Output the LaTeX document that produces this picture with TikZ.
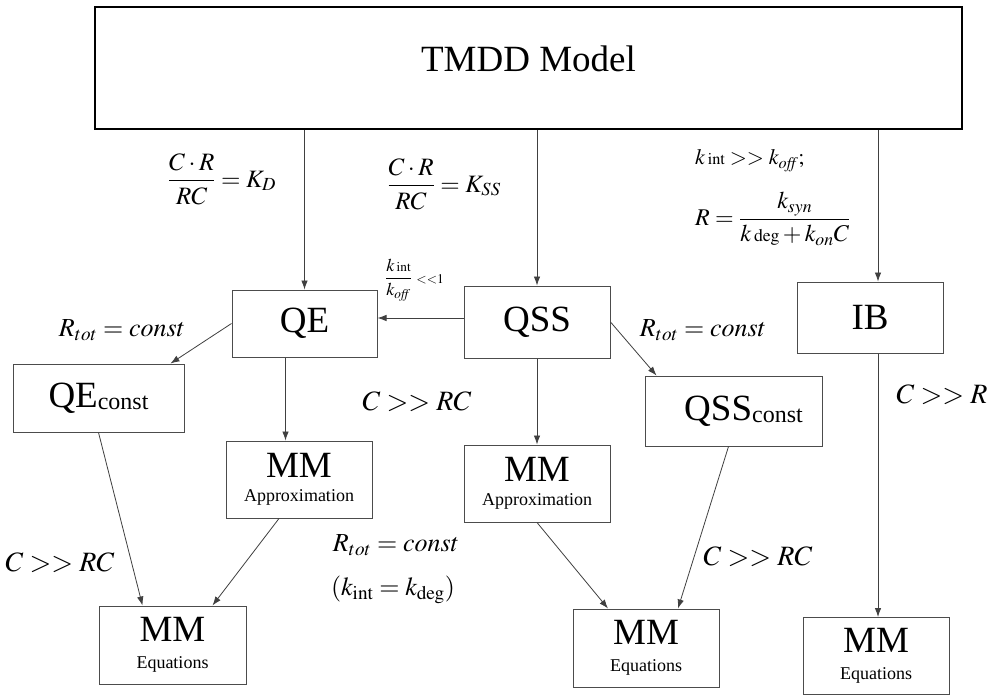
\documentclass[tikz,border=0pt]{standalone}
\usepackage{mathptmx}
\usepackage{fontspec}
\setmainfont{Liberation Serif}
\usetikzlibrary{arrows.meta}

\begin{document}
\begin{tikzpicture}[x=1pt,y=-1pt,
  box/.style={rectangle,draw=black!70,line width=1pt,inner sep=0pt,minimum width=146pt,minimum height=71pt,align=center,font=\fontsize{37}{40}\selectfont},
  apbox/.style={box,minimum height=77pt,font=\fontsize{18}{24}\selectfont},
  eqbox/.style={box,minimum height=77pt,font=\fontsize{18}{27}\selectfont},
  lbl/.style={inner sep=0pt,font=\fontsize{26}{30}\selectfont},
  biglbl/.style={inner sep=0pt,font=\fontsize{28}{30}\selectfont},
  frac/.style={inner sep=0pt,font=\fontsize{22}{26}\selectfont},
  arr/.style={-{Latex[length=9pt,width=6.5pt]},draw=black!75,line width=0.8pt}
]
\useasboundingbox[fill=white] (0,0) rectangle (988,695);

\node[box,draw=black,line width=2.5pt,minimum width=867pt,minimum height=122pt,text height=25pt,text depth=17pt] (tmdd) at (528.5,68) {TMDD Model};
\node[box,minimum width=145pt,minimum height=67pt] (qe) at (304.5,323.5) {QE};
\node[box,minimum height=72pt] (qss) at (537,322) {QSS};
\node[box] (ib) at (870,317.5) {IB};
\node[box,minimum width=171pt,minimum height=68pt] (qec) at (98.5,398) {QE{\fontsize{24}{24}\selectfont\raisebox{-2pt}{const}}};
\node[box,minimum width=177pt,minimum height=70pt] (qssc) at (733.5,411) {\hspace*{20pt}QSS{\fontsize{24}{24}\selectfont\raisebox{-2pt}{const}}};
\node[apbox] (mmal) at (299,479.5) {{\fontsize{37}{37}\selectfont MM}\\Approximation};
\node[apbox] (mmam) at (537,483.5) {{\fontsize{37}{37}\selectfont MM}\\Approximation};
\node[eqbox,minimum width=147pt,minimum height=78pt] (mmel) at (172.5,645) {{\fontsize{37}{37}\selectfont MM}\\Equations};
\node[eqbox,minimum height=78pt] (mmem) at (646,648) {{\fontsize{37}{37}\selectfont MM}\\Equations};
\node[eqbox] (mmer) at (876,656) {{\fontsize{37}{37}\selectfont MM}\\Equations};

\node[frac,font=\fontsize{25}{28}\selectfont] (kd) at (222,179) {$\displaystyle\frac{C\cdot R}{RC}=K_D$};
\node[frac,font=\fontsize{25}{28}\selectfont] (kss) at (444,184) {$\displaystyle\frac{C\cdot R}{RC}=K_{SS}$};
\node[frac,anchor=base west] (kint) at (695,165) {$k\,{\scriptstyle\mathrm{int}}>>k_{\mathit{off}};$};
\node[frac,font=\fontsize{24}{28}\selectfont,anchor=west] (rib) at (695,219) {$R=\displaystyle\frac{k_{syn}}{k\,{\scriptstyle\mathrm{deg}}+k_{on}C}$};
\node[inner sep=0pt,font=\fontsize{18}{20}\selectfont,anchor=west] (ratio) at (385,280) {$\displaystyle\frac{k\,{\scriptstyle\mathrm{int}}}{k_{\mathit{off}}}\ {\scriptstyle<<1}$};
\node[lbl] (rtotl) at (122,330) {$R_{tot}=const$};
\node[lbl] (rtotr) at (703,330) {$R_{tot}=const$};
\node[biglbl] (ccm) at (417,402) {$C>>RC$};
\node[biglbl] (ccr) at (942,395) {$C>>R$};
\node[biglbl] (ccl) at (60,563) {$C>>RC$};
\node[biglbl] (ccb) at (758,557) {$C>>RC$};
\node[lbl] (rtotb) at (396,545) {$R_{tot}=const$};
\node[lbl] (kdeg) at (393,590) {$(k_{\mathrm{int}}=k_{\mathrm{deg}})$};

\coordinate (ibin) at ([xshift=8pt]ib.north);
\coordinate (ibout) at ([xshift=8pt]ib.south);
\coordinate (qssout) at ([yshift=4pt]qss.west);
\coordinate (qeout) at ([xshift=-19pt]qe.south);

\draw[arr] (qe.north |- tmdd.south) -- (qe.north);
\draw[arr] (qss.north |- tmdd.south) -- (qss.north);
\draw[arr] (ibin |- tmdd.south) -- (ibin);
\draw[arr] (qssout) -- (qssout -| qe.east);
\draw[arr] (qe.west) -- ([xshift=72pt]qec.north);
\draw[arr] (qeout) -- (qeout |- mmal.north);
\draw[arr] (qss.south) -- (mmam.north);
\draw[arr] (qss.east) -- ([xshift=12pt]qssc.north west);
\draw[arr] (qec.south) -- ([xshift=-30pt]mmel.north);
\draw[arr] ([xshift=-20pt]mmal.south) -- ([xshift=40pt]mmel.north);
\draw[arr] (mmam.south) -- ([xshift=-38pt]mmem.north);
\draw[arr] ([xshift=-5pt]qssc.south) -- ([xshift=32pt]mmem.north);
\draw[arr] (ibout) -- (ibout |- mmer.north);
\end{tikzpicture}
\end{document}
